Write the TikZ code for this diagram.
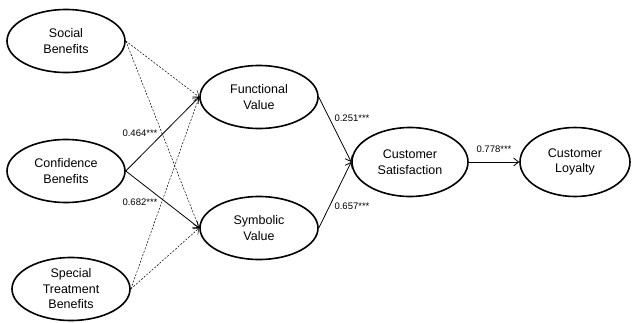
\documentclass[tikz,border=0pt]{standalone}
\usepackage{fontspec}
\setmainfont{Liberation Sans}
\usetikzlibrary{shapes.geometric,arrows.meta}
\begin{document}
\begin{tikzpicture}[x=1pt,y=-1pt,
  construct/.style={ellipse,draw,line width=1.6pt,inner sep=0pt,
    minimum width=118pt,minimum height=63pt,align=center,
    font=\fontsize{12.5}{15.5}\selectfont},
  path/.style={line width=0.8pt,-{Straight Barb[length=5pt,width=8pt]}},
  weak/.style={path,line width=0.5pt,dashed,dash pattern=on 2pt off 1.5pt},
  coef/.style={font=\fontsize{9.5}{11}\selectfont,inner sep=1pt}]
\useasboundingbox (0,0) rectangle (632,322);
% antecedents
\node[construct] (soc) at (66,41) {Social\\Benefits};
\node[construct] (conf) at (66,171) {Confidence\\Benefits};
\node[construct] (spec) at (71,289) {Special\\Treatment\\Benefits};
% perceived value
\node[construct] (func) at (259,97) {Functional\\Value};
\node[construct] (sym) at (259,228) {Symbolic\\Value};
% outcomes
\node[construct,minimum width=116pt,minimum height=69pt] (sat) at (410,162) {Customer\\Satisfaction};
\node[construct,minimum width=110pt,minimum height=69pt] (loy) at (575,162) {Customer\\Loyalty};
% paths
\draw[weak] (soc.east) -- (func.west);
\draw[weak] (soc.east) -- (sym.west);
\draw[path] (conf.east) -- (func.west);
\draw[path] (conf.east) -- (sym.west);
\draw[weak] (spec.east) -- (func.west);
\draw[weak] (spec.east) -- (sym.west);
\draw[path] (func.east) -- (sat.west);
\draw[path] (sym.east) -- (sat.west);
\draw[path] (sat.east) -- (loy.west);
% coefficients
\node[coef] (c1) at (140,133) {0.464***};
\node[coef] (c2) at (140,202) {0.682***};
\node[coef] (c3) at (352,118) {0.251***};
\node[coef] (c4) at (352,206) {0.657***};
\node[coef] (c5) at (494,149) {0.778***};
\end{tikzpicture}
\end{document}
